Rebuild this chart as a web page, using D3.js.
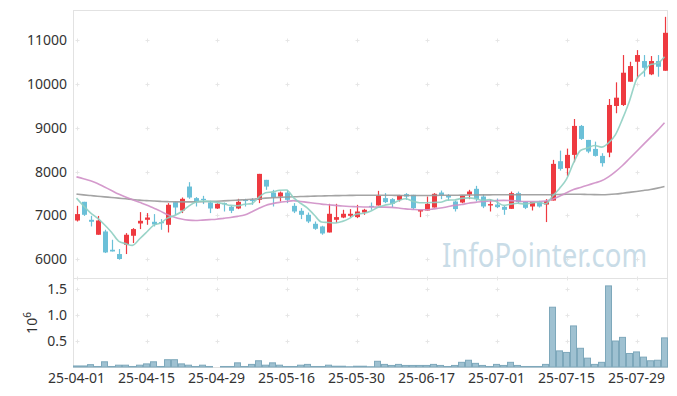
<!DOCTYPE html>
<html>
<head>
<meta charset="utf-8">
<script src="https://cdn.jsdelivr.net/npm/d3@7"></script>
<style>
body { margin: 0; background: #fff; }
svg { display: block; font-family: "Noto Sans", sans-serif; }
</style>
</head>
<body>
<svg id="chart" width="677" height="396"></svg>
<script>
/* global d3 */
// dagdata (85 handelsdagen)
var dates = ["25-04-01","25-04-02","25-04-03","25-04-04","25-04-07","25-04-08","25-04-09","25-04-10","25-04-11",
    "25-04-14","25-04-15","25-04-16","25-04-17","25-04-18","25-04-21","25-04-22","25-04-23","25-04-24","25-04-25",
    "25-04-28","25-04-29","25-04-30","25-05-02","25-05-07","25-05-08","25-05-09","25-05-12","25-05-13","25-05-14",
    "25-05-15","25-05-16","25-05-19","25-05-20","25-05-21","25-05-22","25-05-23","25-05-26","25-05-27","25-05-28",
    "25-05-29","25-05-30","25-06-02","25-06-04","25-06-05","25-06-09","25-06-10","25-06-11","25-06-12","25-06-13",
    "25-06-16","25-06-17","25-06-18","25-06-19","25-06-20","25-06-23","25-06-24","25-06-25","25-06-26","25-06-27",
    "25-06-30","25-07-01","25-07-02","25-07-03","25-07-04","25-07-07","25-07-08","25-07-09","25-07-10","25-07-11",
    "25-07-14","25-07-15","25-07-16","25-07-17","25-07-18","25-07-21","25-07-22","25-07-23","25-07-24","25-07-25",
    "25-07-28","25-07-29","25-07-30","25-07-31","25-08-01","25-08-04"];

var open = [6886, 7312, 6902, 6561, 6636, 6219, 6121, 6333, 6538, 6818, 6902, 6857, 6850, 6788, 7305, 7114, 7660,
    7396, 7380, 7296, 7160, 7282, 7198, 7160, 7357, 7357, 7357, 7813, 7523, 7432, 7523, 7220, 7107, 7016, 6811, 6750,
    6613, 6902, 6954, 6993, 6963, 7068, 7220, 7228, 7396, 7373, 7357, 7487, 7471, 7091, 7114, 7182, 7523, 7464, 7319,
    7296, 7478, 7608, 7432, 7228, 7250, 7198, 7152, 7510, 7312, 7205, 7312, 7250, 7341, 8238, 8079, 8382, 9042, 8723,
    8518, 8359, 8434, 9497, 9520, 10050, 10505, 10521, 10218, 10521, 10300];
var high = [7221, 7312, 6993, 6990, 6675, 6447, 6235, 6599, 6713, 7077, 7055, 7032, 6918, 7282, 7319, 7410, 7760,
    7420, 7448, 7335, 7280, 7296, 7220, 7380, 7380, 7396, 7949, 7813, 7585, 7546, 7585, 7282, 7168, 7068, 6863, 6766,
    7266, 7266, 7130, 7146, 7243, 7152, 7296, 7562, 7510, 7396, 7470, 7510, 7471, 7130, 7432, 7510, 7569, 7487, 7341,
    7460, 7585, 7676, 7487, 7373, 7387, 7220, 7546, 7546, 7319, 7312, 7335, 7373, 8268, 8479, 8525, 9200, 9064, 8723,
    8684, 8420, 9656, 10036, 10658, 10505, 10771, 10658, 10635, 10658, 11529];
var low = [6863, 6990, 6750, 6561, 6144, 6180, 5992, 6121, 6372, 6690, 6788, 6750, 6674, 6613, 7016, 7055, 7380,
    7205, 7260, 7055, 7150, 7091, 7055, 7145, 7205, 7243, 7282, 7585, 7205, 7319, 7282, 7055, 6918, 6827, 6674, 6561,
    6613, 6827, 6940, 6963, 6940, 7016, 7130, 7228, 7282, 7190, 7319, 7357, 7130, 6963, 7114, 7182, 7373, 7341, 7091,
    7280, 7373, 7319, 7168, 7091, 7168, 7016, 7152, 7282, 7146, 7114, 7182, 6850, 7341, 8024, 7904, 8215, 8723, 8420,
    8343, 8115, 8329, 9331, 9497, 10050, 10127, 10164, 10200, 10164, 10300];
var close = [7032, 7016, 6857, 6886, 6158, 6180, 6008, 6561, 6690, 6879, 6954, 6795, 6827, 7244, 7182, 7380, 7410,
    7305, 7357, 7160, 7266, 7260, 7107, 7312, 7335, 7335, 7949, 7660, 7410, 7523, 7357, 7091, 7016, 6863, 6697, 6590,
    7039, 6963, 7039, 7039, 7091, 7130, 7190, 7448, 7305, 7266, 7464, 7432, 7168, 7130, 7266, 7494, 7455, 7410, 7146,
    7448, 7546, 7373, 7205, 7260, 7191, 7130, 7510, 7305, 7175, 7312, 7205, 7328, 8177, 8063, 8382, 9042, 8746, 8457,
    8359, 8193, 9520, 9686, 10255, 10407, 10658, 10368, 10521, 10391, 11165];

// voortschrijdende gemiddelden
var ma5 = [7396, 7220, 7060, 6940, 6790, 6619, 6418, 6359, 6319, 6464, 6618, 6776, 6829, 6940, 7000, 7086, 7209,
    7304, 7327, 7322, 7300, 7270, 7230, 7221, 7256, 7270, 7408, 7518, 7538, 7575, 7580, 7408, 7279, 7170, 7005, 6851,
    6841, 6830, 6866, 6934, 7034, 7052, 7098, 7180, 7233, 7268, 7335, 7383, 7327, 7292, 7292, 7298, 7303, 7351, 7354,
    7391, 7401, 7385, 7344, 7366, 7315, 7232, 7259, 7279, 7262, 7286, 7301, 7265, 7439, 7617, 7831, 8198, 8482, 8538,
    8597, 8559, 8655, 8843, 9203, 9612, 10105, 10275, 10442, 10469, 10621];
var ma20 = [7880, 7840, 7790, 7730, 7650, 7570, 7490, 7420, 7360, 7300, 7240, 7170, 7100, 7020, 6960, 6920, 6895,
    6885, 6895, 6905, 6915, 6935, 6955, 6980, 7010, 7080, 7160, 7230, 7270, 7300, 7320, 7340, 7320, 7300, 7280, 7260,
    7245, 7230, 7215, 7205, 7200, 7195, 7195, 7190, 7190, 7185, 7170, 7150, 7140, 7130, 7130, 7150, 7170, 7200, 7230,
    7250, 7280, 7300, 7320, 7330, 7340, 7345, 7340, 7330, 7320, 7320, 7320, 7330, 7370, 7440, 7520, 7590, 7640, 7690,
    7740, 7790, 7880, 8000, 8140, 8300, 8460, 8620, 8780, 8940, 9116];
var ma60 = [7487, 7470, 7455, 7440, 7425, 7410, 7395, 7380, 7365, 7350, 7340, 7330, 7322, 7316, 7312, 7310, 7310,
    7312, 7315, 7320, 7326, 7333, 7341, 7350, 7360, 7370, 7382, 7395, 7405, 7413, 7420, 7426, 7432, 7437, 7441, 7445,
    7449, 7452, 7455, 7458, 7460, 7462, 7463, 7463, 7462, 7460, 7458, 7456, 7455, 7455, 7456, 7458, 7460, 7461, 7462,
    7464, 7466, 7468, 7470, 7471, 7472, 7472, 7472, 7472, 7472, 7472, 7472, 7473, 7476, 7480, 7484, 7486, 7484, 7480,
    7476, 7474, 7478, 7490, 7508, 7528, 7548, 7570, 7594, 7624, 7660];

var volume = [20000, 20000, 45000, 10000, 100000, 10000, 35000, 35000, 10000, 35000, 60000, 100000, 10000, 140000,
    140000, 60000, 35000, 10000, 35000, 10000, 0, 10000, 10000, 80000, 10000, 50000, 120000, 35000, 80000, 35000,
    10000, 10000, 35000, 50000, 10000, 10000, 35000, 15000, 15000, 5000, 15000, 15000, 5000, 110000, 50000, 30000,
    50000, 30000, 30000, 30000, 30000, 50000, 30000, 10000, 30000, 90000, 130000, 70000, 30000, 10000, 50000, 30000,
    90000, 30000, 10000, 10000, 10000, 50000, 1150000, 310000, 280000, 790000, 360000, 170000, 50000, 90000, 1560000,
    500000, 570000, 260000, 290000, 190000, 120000, 130000, 560000];

var priceTicks = [6000, 7000, 8000, 9000, 10000, 11000];
var volumeTicks = [500000, 1000000, 1500000];
var dateTicks = ["25-04-01", "25-04-15", "25-04-29", "25-05-16", "25-05-30", "25-06-17", "25-07-01", "25-07-15", "25-07-29"];

////////////////////////////////////////////////////////////////////////////////////
// schalen en vlakken
var svg = d3.select("#chart");
var left = 73, right = 668,
    priceTop = 10, priceBottom = 278,
    volTop = 278, volBottom = 367;

var x = d3.scaleBand().domain(dates).range([left, right]).padding(0);
var y = d3.scaleLinear().domain([5575, 11685]).range([priceBottom, priceTop]);
var yVol = d3.scaleLinear().domain([0, 1712000]).range([volBottom, volTop]);

var data = dates.map(function (d, i) {
    return {
        date: d, open: open[i], high: high[i], low: low[i], close: close[i],
        ma5: ma5[i], ma20: ma20[i], ma60: ma60[i], volume: volume[i]
    };
});

function cx(d) {
    return x(d) + x.bandwidth() / 2;
}

// kader
svg.append("rect")
    .attr("x", left + 0.5).attr("y", priceTop + 0.5)
    .attr("width", right - left - 1).attr("height", volBottom - priceTop)
    .attr("fill", "none").attr("stroke", "#e2e2e2");
svg.append("line")
    .attr("x1", left).attr("x2", right)
    .attr("y1", priceBottom + 0.5).attr("y2", priceBottom + 0.5)
    .attr("stroke", "#e2e2e2");

// kleine kruisjes op de rasterpunten
var crosses = [];
dateTicks.forEach(function (d) {
    priceTicks.forEach(function (p) { crosses.push([cx(d), y(p)]); });
    crosses.push([cx(d), priceBottom]);
    volumeTicks.forEach(function (v) { crosses.push([cx(d), yVol(v)]); });
});
svg.append("g").selectAll("path")
    .data(crosses)
    .enter().append("path")
    .attr("d", function (c) {
        var px = Math.round(c[0]) + 0.5, py = Math.round(c[1]) + 0.5;
        return "M" + (px - 2) + "," + py + "h4M" + px + "," + (py - 2) + "v4";
    })
    .attr("stroke", "#e6e6e6")
    .attr("stroke-width", 1);

// watermerk (horizontaal wat smaller geschaald)
svg.append("text")
    .attr("transform", "translate(442,267) scale(0.86,1)")
    .attr("font-size", 32)
    .attr("fill", "#c9dce7")
    .text("InfoPointer.com");

////////////////////////////////////////////////////////////////////////////////////
// volume
svg.append("g").selectAll(".vol")
    .data(data)
    .enter().append("rect")
    .attr("class", "vol")
    .attr("x", function (d) { return x(d.date) + 0.5; })
    .attr("width", x.bandwidth() - 1)
    .attr("y", function (d) { return yVol(d.volume); })
    .attr("height", function (d) { return volBottom - yVol(d.volume); })
    .attr("fill", "#9fc1d1")
    .attr("stroke", "#7ea8bb")
    .attr("stroke-width", 1);

////////////////////////////////////////////////////////////////////////////////////
// kaarsen
var candle = svg.append("g").selectAll(".candle")
    .data(data)
    .enter().append("g")
    .attr("class", "candle");

function kleur(d) {
    return d.close >= d.open ? "#ee3a40" : "#6bc0d8";
}

candle.append("line")
    .attr("x1", function (d) { return Math.round(cx(d.date)) + 0.5; })
    .attr("x2", function (d) { return Math.round(cx(d.date)) + 0.5; })
    .attr("y1", function (d) { return y(d.high); })
    .attr("y2", function (d) { return y(d.low); })
    .attr("stroke", kleur)
    .attr("stroke-width", 1.2);

candle.append("rect")
    .attr("x", function (d) { return Math.round(cx(d.date)) + 0.5 - 2.5; })
    .attr("width", 5)
    .attr("y", function (d) { return y(Math.max(d.open, d.close)); })
    .attr("height", function (d) {
        return Math.max(1.2, Math.abs(y(d.open) - y(d.close)));
    })
    .attr("fill", kleur);

// gemiddelden
function maLine(key) {
    return d3.line()
        .x(function (d) { return cx(d.date); })
        .y(function (d) { return y(d[key]); })
        .curve(d3.curveMonotoneX);
}

[["ma60", "#9a9a9a"], ["ma20", "#cf8fc7"], ["ma5", "#8fcfc2"]].forEach(function (m) {
    svg.append("path")
        .datum(data)
        .attr("d", maLine(m[0]))
        .attr("fill", "none")
        .attr("stroke", m[1])
        .attr("stroke-width", 1.6)
        .attr("opacity", 0.9);
});

////////////////////////////////////////////////////////////////////////////////////
// assen
var yAxis = svg.append("g")
    .attr("transform", "translate(" + left + ",0)")
    .call(d3.axisLeft(y).tickValues(priceTicks).tickSize(0).tickPadding(6)
        .tickFormat(d3.format("d")));

var volAxis = svg.append("g")
    .attr("transform", "translate(" + left + ",0)")
    .call(d3.axisLeft(yVol).tickValues(volumeTicks).tickSize(0).tickPadding(6)
        .tickFormat(function (v) { return d3.format(".1f")(v / 1e6); }));

var xAxis = svg.append("g")
    .attr("transform", "translate(0," + volBottom + ")")
    .call(d3.axisBottom(x).tickValues(dateTicks).tickSize(0).tickPadding(6));

[yAxis, volAxis, xAxis].forEach(function (a) {
    a.select(".domain").remove();
    a.selectAll("text")
        .attr("font-family", "'Noto Sans', sans-serif")
        .attr("font-size", 14)
        .attr("fill", "#333");
});

// 10^6 label
var expo = svg.append("text")
    .attr("transform", "translate(37,323) rotate(-90)")
    .attr("text-anchor", "middle")
    .attr("font-size", 14)
    .attr("fill", "#333");
expo.append("tspan").text("10");
expo.append("tspan")
    .attr("font-size", 10)
    .attr("dy", -6)
    .text("6");
</script>
</body>
</html>
